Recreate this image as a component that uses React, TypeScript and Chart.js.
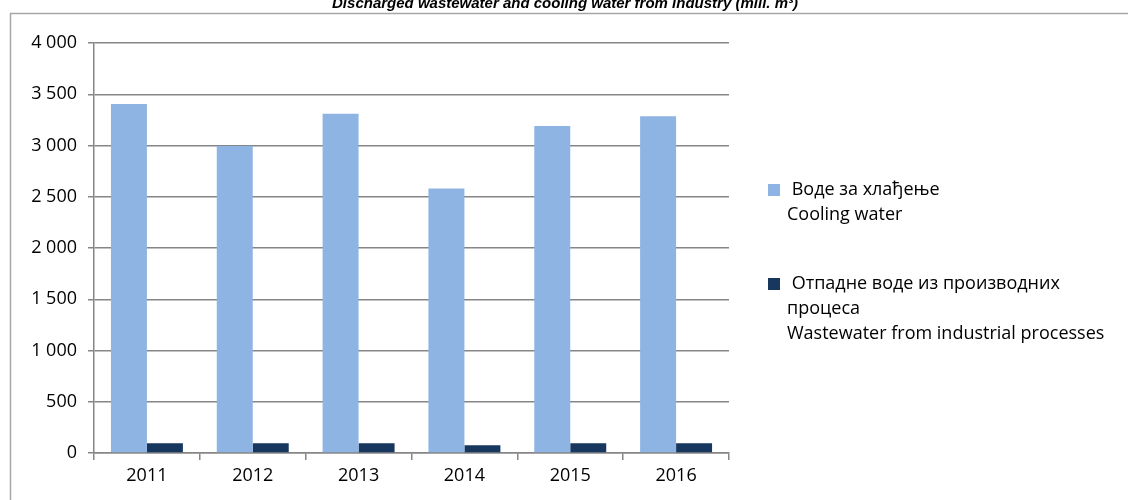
import React, { useEffect, useRef } from "react";
import { Chart, registerables } from "chart.js";

Chart.register(...registerables);

const years = ["2011", "2012", "2013", "2014", "2015", "2016"];
const coolingWater = [3405, 2995, 3310, 2580, 3190, 3285];
const industrialWastewater = [95, 95, 95, 75, 95, 95];
const coolingLabel = [" Воде за хлађење", "Cooling water"];
const wastewaterLabel = [" Отпадне воде из производних", "процеса", "Wastewater from industrial processes"];
const chartTitle = "Discharged wastewater and cooling water from industry (mill. m³)";

const LIGHT = "#8EB4E3";
const DARK = "#17375E";
const GRID = "#868686";
const FONT = "'Open Sans', sans-serif";

const decor = {
  id: "decor",
  beforeDraw(chart: any) {
    const ctx = chart.ctx;
    ctx.save();
    ctx.fillStyle = "#ffffff";
    ctx.fillRect(0, 0, chart.width, chart.height);
    ctx.strokeStyle = "#a6a6a6";
    ctx.lineWidth = 1.5;
    ctx.strokeRect(10.5, 13.5, chart.width + 20, chart.height + 20);
    ctx.restore();
  },
  afterDraw(chart: any) {
    const ctx = chart.ctx;
    ctx.save();
    ctx.fillStyle = "#000";
    ctx.font = "italic bold 15px 'Liberation Sans', Arial, sans-serif";
    ctx.textAlign = "center";
    ctx.textBaseline = "alphabetic";
    ctx.fillText(chartTitle, 565, 8);

    const items = [
      { color: LIGHT, lines: coolingLabel, y: 190 },
      { color: DARK, lines: wastewaterLabel, y: 284 },
    ];
    ctx.font = `18px ${FONT}`;
    ctx.textAlign = "left";
    ctx.textBaseline = "middle";
    for (const it of items) {
      ctx.fillStyle = it.color;
      ctx.fillRect(768, it.y - 6, 12, 12);
      ctx.fillStyle = "#000";
      it.lines.forEach((ln, i) => {
        ctx.fillText(ln, 787, it.y + i * 25);
      });
    }
    ctx.restore();
  },
};

export default function App() {
  const ref = useRef<HTMLCanvasElement | null>(null);
  useEffect(() => {
    document.body.style.margin = "0";
    const chart = new Chart(ref.current as HTMLCanvasElement, {
      type: "bar",
      data: {
        labels: years,
        datasets: [
          {
            label: "Cooling water",
            data: coolingWater,
            backgroundColor: LIGHT,
            borderWidth: 0,
            barPercentage: 1,
            categoryPercentage: 0.68,
          },
          {
            label: "Wastewater from industrial processes",
            data: industrialWastewater,
            backgroundColor: DARK,
            borderWidth: 0,
            barPercentage: 1,
            categoryPercentage: 0.68,
          },
        ],
      },
      options: {
        animation: false,
        responsive: true,
        maintainAspectRatio: false,
        layout: { padding: { top: 43, right: 399, left: 0, bottom: 0 } },
        plugins: {
          legend: { display: false },
          tooltip: { enabled: false },
          title: { display: false },
        },
        scales: {
          x: {
            grid: {
              offset: true,
              drawOnChartArea: false,
              drawTicks: true,
              tickLength: 7,
              color: GRID,
              lineWidth: 1.5,
            },
            border: { display: true, color: GRID, width: 1.5 },
            ticks: {
              color: "#000",
              font: { family: FONT, size: 18 },
              padding: 5,
            },
            afterFit(scale: any) {
              scale.height = 47;
            },
          },
          y: {
            min: 0,
            max: 4000,
            ticks: {
              stepSize: 500,
              color: "#000",
              font: { family: FONT, size: 18 },
              padding: 11,
              callback: (v: any) => {
                const n = Number(v);
                return n >= 1000 ? `${Math.floor(n / 1000)} ${String(n % 1000).padStart(3, "0")}` : String(n);
              },
            },
            grid: {
              color: GRID,
              lineWidth: 1.5,
              tickLength: 6,
              drawTicks: true,
            },
            border: { display: true, color: GRID, width: 1.5 },
            afterFit(scale: any) {
              scale.width = 94;
            },
          },
        },
      },
      plugins: [decor],
    });
    return () => chart.destroy();
  }, []);
  return (
    <div style={{ position: "absolute", left: 0, top: 0, width: 1128, height: 500 }}>
      <canvas ref={ref} />
    </div>
  );
}
